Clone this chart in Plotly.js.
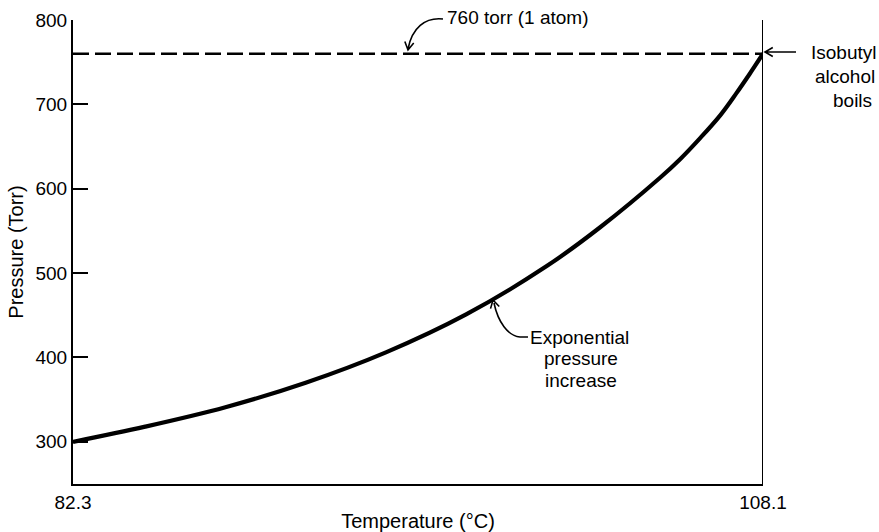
<!DOCTYPE html>
<html>
<head>
<meta charset="utf-8">
<script src="https://cdn.plot.ly/plotly-3.0.1.min.js"></script>
<style>html,body{margin:0;padding:0;background:#fff;}#chart{width:879px;height:532px;}</style>
</head>
<body>
<div id="chart"></div>
<script>
// ---- data ----
const temperatureC = [82.3, 85.0, 88.0, 91.0, 94.0, 97.0, 100.0, 102.0, 104.25, 105.0, 105.75, 106.5, 107.1, 107.6, 108.1];
const pressureTorr = [300, 318, 341, 370, 406, 451, 508, 554, 613, 635, 660, 687, 713, 736, 760];
const atmTemps = [82.3, 108.1];
const atmPressure = [760, 760];
const boilTemps = [108.1, 108.1];
const boilPressure = [250, 800];
const yTicks = [300, 400, 500, 600, 700, 800];
const xTicks = [82.3, 108.1];
const xTickText = ['82.3', '108.1'];

// ---- layout helpers (pixel -> paper) ----
const L = 73, R = 763, T = 20, B = 484;
const px = (x) => (x - L) / (R - L);
const py = (y) => (B - y) / (B - T);
const pt = (x, y) => px(x).toFixed(5) + ',' + py(y).toFixed(5);
function head(tx, ty, fx, fy, len, ang) {
  const dx = tx - fx, dy = ty - fy, n = Math.hypot(dx, dy);
  const ux = dx / n, uy = dy / n;
  const a = ang * Math.PI / 180;
  const w = (s) => {
    const c = Math.cos(s * a), si = Math.sin(s * a);
    const rx = ux * c - uy * si, ry = ux * si + uy * c;
    return pt(tx - len * rx, ty - len * ry);
  };
  return ' M' + w(1) + ' L' + pt(tx, ty) + ' L' + w(-1);
}

const fam = '"Liberation Sans", Arial, sans-serif';
const font = {family: fam, color: '#000', size: 19};
const titleFont = {family: fam, color: '#000', size: 20};

const traces = [
  {x: atmTemps, y: atmPressure, mode: 'lines', line: {color: '#000', width: 2.6, dash: '16px,6px'}, cliponaxis: false, hoverinfo: 'skip'},
  {x: boilTemps, y: boilPressure, mode: 'lines', line: {color: '#000', width: 2}, cliponaxis: false, hoverinfo: 'skip'},
  {x: temperatureC, y: pressureTorr, mode: 'lines', line: {color: '#000', width: 4.2, shape: 'spline', smoothing: 1}, cliponaxis: false, hoverinfo: 'skip'}
];

const arrowTorr = 'M' + pt(443, 19) + ' C' + pt(425, 17) + ' ' + pt(412, 28) + ' ' + pt(408, 49) + head(408, 50, 410, 38, 9, 30);
const arrowExp = 'M' + pt(528, 337) + ' L' + pt(520, 337) + ' C' + pt(508, 336) + ' ' + pt(498, 322) + ' ' + pt(494, 303) + head(493, 300, 496, 312, 9, 30);
const arrowBoil = 'M' + pt(796, 52) + ' L' + pt(766, 52) + head(765, 52, 780, 52, 9, 30);

const txt = (x, y, t, xa, ya) => ({xref: 'paper', yref: 'paper', x: px(x), y: py(y), xanchor: xa, yanchor: ya, text: t, showarrow: false, font: font});

const layout = {
  width: 879, height: 532,
  margin: {l: L, r: 879 - R, t: T, b: 532 - B, pad: 0},
  paper_bgcolor: '#fff', plot_bgcolor: '#fff',
  showlegend: false,
  font: font,
  xaxis: {
    range: [82.3, 108.1], tickvals: xTicks, ticktext: xTickText, ticks: '',
    showline: true, linecolor: '#000', linewidth: 2, showgrid: false, zeroline: false,
    tickfont: font, fixedrange: true,
    title: {text: 'Temperature (°C)', font: titleFont, standoff: 4}
  },
  yaxis: {
    range: [250, 800], tickvals: yTicks, ticks: 'inside', ticklen: 15, tickwidth: 2, tickcolor: '#000',
    showline: true, linecolor: '#000', linewidth: 2, showgrid: false, zeroline: false,
    tickfont: font, fixedrange: true,
    title: {text: 'Pressure (Torr)', font: titleFont, standoff: 6}
  },
  shapes: [
    {type: 'path', xref: 'paper', yref: 'paper', path: arrowTorr, line: {color: '#000', width: 1.6}},
    {type: 'path', xref: 'paper', yref: 'paper', path: arrowExp, line: {color: '#000', width: 1.6}},
    {type: 'path', xref: 'paper', yref: 'paper', path: arrowBoil, line: {color: '#000', width: 1.6}}
  ],
  annotations: [
    txt(445, 17, '760 torr (1 atom)', 'left', 'middle'),
    txt(878, 52, 'Isobutyl', 'right', 'middle'),
    txt(877, 77, 'alcohol', 'right', 'middle'),
    txt(874, 100, 'boils', 'right', 'middle'),
    txt(579, 337, 'Exponential', 'center', 'middle'),
    txt(581, 358, 'pressure', 'center', 'middle'),
    txt(581, 380, 'increase', 'center', 'middle')
  ]
};

Plotly.newPlot('chart', traces, layout, {staticPlot: true, displayModeBar: false});
</script>
</body>
</html>
